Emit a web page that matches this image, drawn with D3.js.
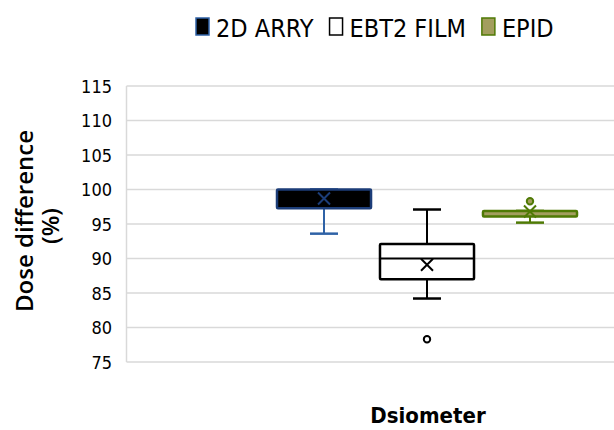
<!DOCTYPE html>
<html><head><meta charset="utf-8">
<script src="https://cdn.jsdelivr.net/npm/d3@7"></script>
<style>body{margin:0;background:#fff;overflow:hidden}</style>
</head><body>
<svg id="c" width="614" height="430"></svg>
<script>
const category = "Dsiometer";
const series = ["2D ARRY", "EBT2 FILM", "EPID"];
const q1 = [97.3, 87.0, 96.1];
const median = [100, 90.0, 96.5];
const q3 = [100, 92.1, 96.9];
const whiskerLow = [93.6, 84.2, 95.2];
const whiskerHigh = [100, 97.1, 96.9];
const means = [98.7, 89.1, 96.8];
const outliers = [[], [78.3], [98.3]];
const yTicks = [75, 80, 85, 90, 95, 100, 105, 110, 115];

const fills = ["#000000", "#ffffff", "#a39e5e"];
const strokes = ["#1c3d78", "#000000", "#4f7a05"];
const whiskerCol = ["#2f62a6", "#000000", "#4f7a05"];
const meanCol = ["#1c3d78", "#000000", "#4f7a05"];

const svg = d3.select("#c");
const pLeft = 126.5, pRight = 726, pTop = 86, pBottom = 362;
const y = d3.scaleLinear().domain([75, 115]).range([pBottom, pTop]);
const xCat = d3.scaleBand().domain([category]).range([pLeft, pRight]);
const xs = d3.scaleBand().domain(series)
  .range([xCat(category) + 150.5, xCat(category) + xCat.bandwidth() - 149])
  .paddingInner(0.087).paddingOuter(0);
const narrow = "'Liberation Sans Narrow','DejaVu Sans Condensed',sans-serif";

// grid
svg.append("g").selectAll("line").data(yTicks).join("line")
  .attr("x1", pLeft).attr("x2", pRight)
  .attr("y1", d => y(d)).attr("y2", d => y(d))
  .attr("stroke", "#d9d9d9").attr("stroke-width", 1.5);
svg.append("line").attr("x1", pLeft).attr("x2", pLeft).attr("y1", pTop).attr("y2", pBottom)
  .attr("stroke", "#d9d9d9").attr("stroke-width", 1.5);

// y axis
const yAxis = d3.axisLeft(y).tickValues(yTicks).tickSize(0).tickPadding(0);
const ga = svg.append("g").attr("transform", `translate(112,0)`).call(yAxis);
ga.select(".domain").remove();
ga.selectAll("text").attr("font-family", narrow).attr("font-size", 18).attr("fill", "#000")
  .attr("dy", "0.35em");

// boxes
series.forEach((s, i) => {
  const bw = xs.bandwidth();
  const cx = xs(s) + bw / 2;
  const g = svg.append("g");
  const capW = 28;
  g.append("line").attr("x1", cx).attr("x2", cx).attr("y1", y(whiskerLow[i])).attr("y2", y(q1[i]))
    .attr("stroke", whiskerCol[i]).attr("stroke-width", 2);
  g.append("line").attr("x1", cx).attr("x2", cx).attr("y1", y(whiskerHigh[i])).attr("y2", y(q3[i]))
    .attr("stroke", whiskerCol[i]).attr("stroke-width", 2);
  g.append("line").attr("x1", cx - capW / 2).attr("x2", cx + capW / 2)
    .attr("y1", y(whiskerLow[i])).attr("y2", y(whiskerLow[i]))
    .attr("stroke", whiskerCol[i]).attr("stroke-width", 2.5);
  g.append("line").attr("x1", cx - capW / 2).attr("x2", cx + capW / 2)
    .attr("y1", y(whiskerHigh[i])).attr("y2", y(whiskerHigh[i]))
    .attr("stroke", whiskerCol[i]).attr("stroke-width", 2.5);
  g.append("rect").attr("x", xs(s)).attr("width", bw)
    .attr("y", y(q3[i])).attr("height", Math.max(1, y(q1[i]) - y(q3[i])))
    .attr("fill", fills[i]).attr("stroke", strokes[i]).attr("stroke-width", 2.5)
    .attr("rx", 1);
  if (i === 1) {
    g.append("line").attr("x1", xs(s)).attr("x2", xs(s) + bw)
      .attr("y1", y(median[i])).attr("y2", y(median[i]))
      .attr("stroke", strokes[i]).attr("stroke-width", 2);
  }
  const m = 6, my = y(means[i]);
  g.append("path").attr("d", `M${cx - m},${my - m}L${cx + m},${my + m}M${cx - m},${my + m}L${cx + m},${my - m}`)
    .attr("stroke", meanCol[i]).attr("stroke-width", 2).attr("fill", "none");
  g.selectAll("circle").data(outliers[i]).join("circle")
    .attr("cx", cx).attr("cy", d => y(d)).attr("r", 3.2)
    .attr("fill", fills[i]).attr("stroke", strokes[i]).attr("stroke-width", 2);
});

// legend
const lg = svg.append("g");
let lx = 196;
series.forEach((s, i) => {
  lg.append("rect").attr("x", lx).attr("y", 18).attr("width", 13).attr("height", 17)
    .attr("fill", fills[i]).attr("stroke", i === 0 ? "#2f62a6" : strokes[i]).attr("stroke-width", 1.5);
  const t = lg.append("text").attr("x", lx + 20).attr("y", 37).text(s)
    .attr("font-family", narrow).attr("font-size", 25).attr("fill", "#000");
  lx += 20 + t.node().getComputedTextLength() + 16;
});

// axis titles
svg.append("text").attr("transform", "translate(33,221) rotate(-90)")
  .attr("text-anchor", "middle").attr("font-family", "'Open Sans',sans-serif")
  .attr("font-weight", 600).attr("font-size", 24).text("Dose difference");
svg.append("text").attr("transform", "translate(59,226) rotate(-90)")
  .attr("text-anchor", "middle").attr("font-family", "'Open Sans',sans-serif")
  .attr("font-weight", 600).attr("font-size", 24).text("(%)");
svg.append("text").attr("x", 428).attr("y", 423).attr("text-anchor", "middle")
  .attr("font-family", narrow).attr("font-weight", "bold")
  .attr("font-size", 22).text(category);
</script>
</body></html>
